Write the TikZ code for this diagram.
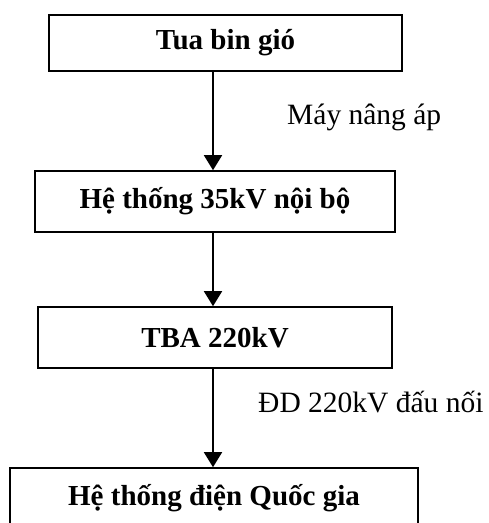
\documentclass[tikz,border=0pt]{standalone}
\usepackage{fontspec}
\setmainfont{Liberation Serif}
\usetikzlibrary{arrows.meta}
\begin{document}
\begin{tikzpicture}[x=1pt,y=-1pt,
  box/.style={draw=black,line width=1.6pt,rectangle,inner sep=0pt,font=\fontsize{29}{33}\selectfont\bfseries},
  lbl/.style={anchor=west,inner sep=0pt,font=\fontsize{29.5}{33}\selectfont},
  arr/.style={line width=1.6pt,-{Triangle[width=18pt,length=15pt]}}]
\useasboundingbox (0,0) rectangle (489,523);
\clip (0,0) rectangle (489,523);
\coordinate (ax) at (213,0);
\node[box,minimum width=353pt,minimum height=56pt] (b1) at (225.5,43) {Tua bin gió};
\node[box,minimum width=360pt,minimum height=61pt] (b2) at (215,201.5) {Hệ thống 35kV nội bộ};
\node[box,minimum width=354pt,minimum height=61pt] (b3) at (215,337.5) {TBA 220kV};
\node[box,minimum width=408pt,minimum height=60pt] (b4) at (214,498) {Hệ thống điện Quốc gia};
\draw[arr] (b1.south -| ax) -- (b2.north -| ax);
\draw[arr] (b2.south -| ax) -- (b3.north -| ax);
\draw[arr] (b3.south -| ax) -- (b4.north -| ax);
\node[lbl] (l1) at (287,117) {Máy nâng áp};
\node[lbl] (l2) at (258,402) {ĐD 220kV đấu nối};
\end{tikzpicture}
\end{document}
